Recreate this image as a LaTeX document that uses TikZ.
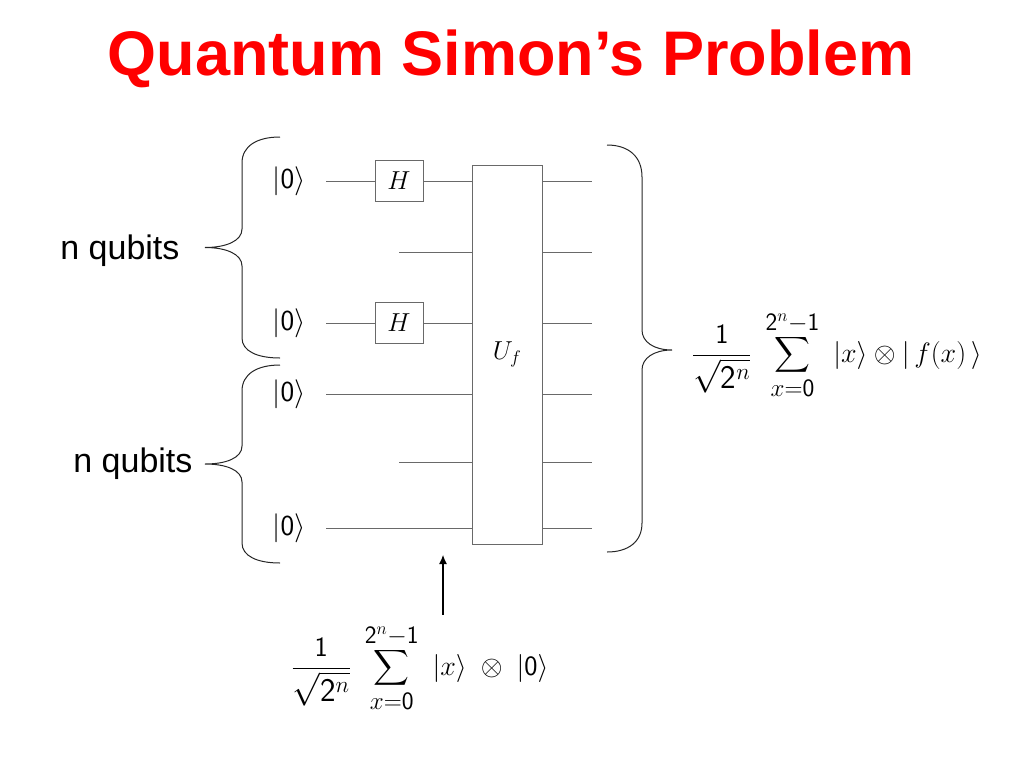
\RequirePackage{fix-cm}
\documentclass[tikz,border=0pt]{standalone}
\usepackage{exscale}
\usepackage{fontspec}
\newfontfamily\arialfont{Liberation Sans}
\usetikzlibrary{arrows.meta}
\definecolor{wiregray}{RGB}{105,105,105}
\tikzset{
  wire/.style={draw=wiregray, line width=0.9pt},
  gate/.style={draw=wiregray, line width=0.9pt, fill=white, inner sep=0pt,
    minimum width=48pt, minimum height=41pt, font=\fontsize{26}{30}\selectfont},
  ket/.style={font=\fontsize{29}{32}\selectfont},
  qlabel/.style={font=\arialfont\fontsize{34}{38}\selectfont},
  mathlabel/.style={font=\fontsize{28}{32}\selectfont},
  bracepath/.style={draw=black!85, line width=1pt}
}
\newcommand{\ketzero}{$|\mathsf{0}\rangle$}
\newcommand{\limtext}[1]{\hbox{\fontsize{25}{28}\selectfont$#1$}}
\newcommand{\simonsum}{\frac{\mathsf{1}}{\hbox{\fontsize{33}{36}\selectfont$\sqrt{\mathsf{2}^n}$}}\,\,%
  \sum_{\limtext{x{=}\mathsf{0}}}^{\limtext{\mathsf{2}^n{-}\mathsf{1}}}\,\,}
\begin{document}
\begin{tikzpicture}[x=1pt,y=-1pt]  % simon circuit
  \useasboundingbox (0,0) rectangle (1024,768);
  \node[text=red, font=\arialfont\bfseries\fontsize{63}{70}\selectfont, anchor=base] (title) at (511,75) {Quantum Simon’s Problem};
  % inputs
  \node[ket] (k1) at (289,181) {\ketzero};
  \node[ket] (k3) at (289,323) {\ketzero};
  \node[ket] (k4) at (289,394) {\ketzero};
  \node[ket] (k6) at (289,528) {\ketzero};
  \coordinate (w2) at (399,252);
  \coordinate (w5) at (399,462);
  \node[gate] (h1) at (399,181) {$H$};
  \node[gate] (h3) at (399,323) {$H$};
  \node[draw=wiregray, line width=0.9pt, minimum width=70pt, minimum height=379pt, inner sep=0pt,
    font=\fontsize{26}{30}\selectfont] (uf) at (507,354.5) {$U_f$};
  \foreach \i/\y in {1/181,2/252,3/323,4/394,5/462,6/528}
    \coordinate (o\i) at (592,\y);
  % wires
  \draw[wire] (k1.east) ++(17,0) -- (h1.west);
  \draw[wire] (h1.east) -- (h1 -| uf.west);
  \draw[wire] (w2) -- (w2 -| uf.west);
  \draw[wire] (k3.east) ++(17,0) -- (h3.west);
  \draw[wire] (h3.east) -- (h3 -| uf.west);
  \draw[wire] (k4.east) ++(17,0) -- (k4 -| uf.west);
  \draw[wire] (w5) -- (w5 -| uf.west);
  \draw[wire] (k6.east) ++(17,0) -- (k6 -| uf.west);
  \foreach \i in {1,...,6}
    \draw[wire] (o\i -| uf.east) -- (o\i);
  % braces
  \draw[bracepath] (280,137) .. controls (257,137) and (242,146) .. (242,163) -- (242,229)
    .. controls (242,241) and (226,247.5) .. (205,247.5) .. controls (226,247.5) and (242,254) .. (242,266)
    -- (242,338) .. controls (242,351) and (257,358) .. (280,358);
  \draw[bracepath] (280,365) .. controls (257,365) and (242,374) .. (242,391) -- (242,446)
    .. controls (242,458) and (226,464) .. (205,464) .. controls (226,464) and (242,470) .. (242,482)
    -- (242,543) .. controls (242,556) and (257,563) .. (280,563);
  \draw[bracepath] (607,145) .. controls (628,145) and (642,156) .. (642,177) -- (642,330)
    .. controls (642,342) and (654,350) .. (672,350) .. controls (654,350) and (642,358) .. (642,370)
    -- (642,523) .. controls (642,542) and (628,552) .. (607,552);
  \node[qlabel, anchor=east] (q1) at (183,251) {n qubits};
  \node[qlabel, anchor=east] (q2) at (196,464) {n qubits};
  % states
  \node[mathlabel] (out) at (837,355)
    {$\displaystyle \simonsum |x\rangle \otimes |\,f(x)\,\rangle$};
  \node[mathlabel] (in) at (420,668)
    {$\displaystyle \simonsum |x\rangle \;\otimes\; |\mathsf{0}\rangle$};
  \coordinate (tip) at (443,555);
  \draw[-{Latex[length=9pt,width=8pt]}, line width=1.1pt, shorten <=6pt] (tip |- in.north) -- (tip);
\end{tikzpicture}
\end{document}
